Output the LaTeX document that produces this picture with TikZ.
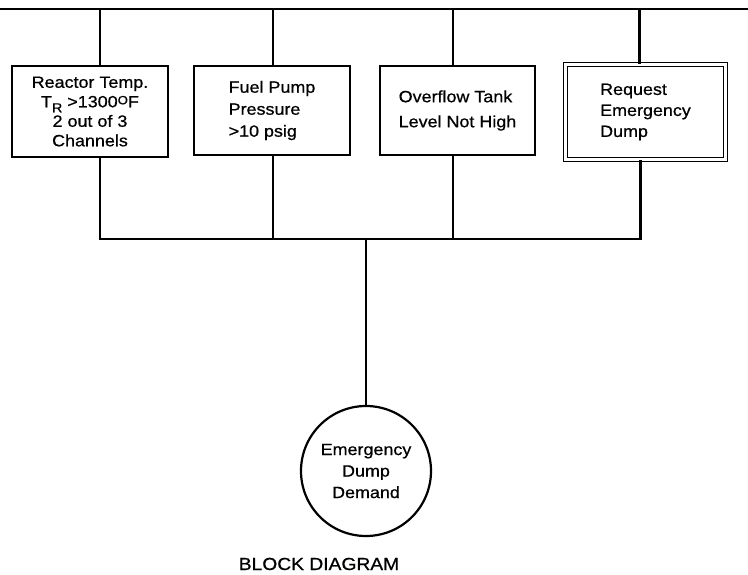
\documentclass[tikz,border=0pt]{standalone}
\usepackage{fontspec}
\setmainfont{Liberation Sans}[FakeStretch=1.1,FakeBold=0.7]
\begin{document}
\begin{tikzpicture}[x=1pt,y=-1pt,
  line width=2.2pt,
  every node/.style={inner sep=0pt},
  blk/.style={draw, line width=2.2pt, font=\fontsize{16.3}{22}\selectfont, align=left},
  wire/.style={line width=2.2pt}]
\useasboundingbox (0,0) rectangle (748,574);
% top bus
\coordinate (tl) at (0,9);
\coordinate (tr) at (748,9);
\draw[wire] (tl) -- (tr);
% boxes
\node[blk, align=center, font=\fontsize{16.3}{19.5}\selectfont, minimum width=156pt, minimum height=91pt] (b1) at (90,111.5)
  {Reactor Temp.\\T\raisebox{-5pt}[0pt][0pt]{\fontsize{13}{13}\selectfont R} >1300\raisebox{3pt}[0pt][0pt]{\fontsize{12}{12}\selectfont O}F\\2 out of 3\\Channels};
\node[blk, minimum width=156pt, minimum height=89pt] (b2) at (272,110.5)
  {Fuel Pump\\Pressure\\>10 psig};
\node[blk, font=\fontsize{16.3}{25}\selectfont, minimum width=155pt, minimum height=89pt] (b3) at (457.5,110.5)
  {Overflow Tank\\Level Not High};
\node[blk, line width=1.8pt, double, double distance=2.2pt, font=\fontsize{16.3}{21}\selectfont, minimum width=160pt, minimum height=95pt] (b4) at (645.5,112)
  {Request\\Emergency\\Dump};
% demand circle
\node[draw, circle, line width=2.2pt, minimum size=130pt, align=center, font=\fontsize{16.3}{21.5}\selectfont] (dem) at (366,471)
  {Emergency\\Dump\\Demand};
% connectors to top bus
\draw[wire] ([xshift=10pt]b1.north) -- ([xshift=10pt]b1.north |- tl);
\draw[wire] ([xshift=1pt]b2.north) -- ([xshift=1pt]b2.north |- tl);
\draw[wire] ([xshift=-4.5pt]b3.north) -- ([xshift=-4.5pt]b3.north |- tl);
\draw[wire] ([xshift=-6pt]b4.north) -- ([xshift=-6pt]b4.north |- tl);
% bottom bus
\coordinate (j) at (366,239);
\draw[wire] ([xshift=10pt]b1.south) |- (j);
\draw[wire] ([xshift=1pt]b2.south) |- (j);
\draw[wire] ([xshift=-4.5pt]b3.south) |- (j);
\draw[wire] ([xshift=-5pt]b4.south) |- (j);
\draw[wire] (j) -- (dem.north);
% caption
\node[anchor=base, font=\fontsize{17.5}{20}\selectfont] (cap) at (319,570) {BLOCK DIAGRAM};
\end{tikzpicture}
\end{document}
